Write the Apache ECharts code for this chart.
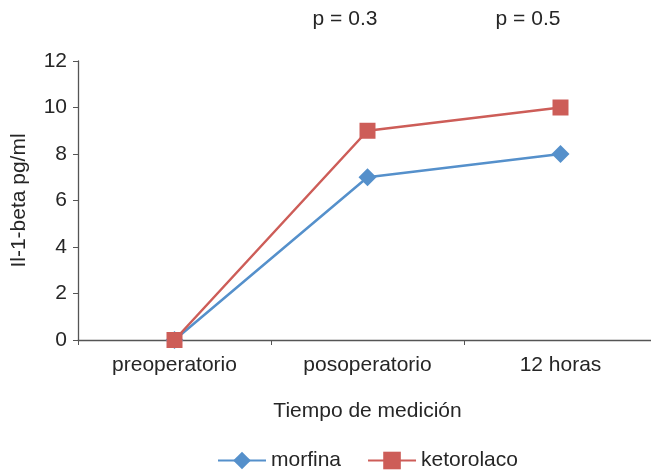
<!DOCTYPE html>
<html>
<head>
<meta charset="utf-8">
<script src="https://cdn.jsdelivr.net/npm/echarts@6/dist/echarts.min.js"></script>
<style>html,body{margin:0;padding:0;background:#fff;overflow:hidden}#c{width:662px;height:471px}</style>
</head>
<body>
<div id="c"></div>
<script>
const categories = ['preoperatorio', 'posoperatorio', '12 horas'];
const morfina = [0, 7, 8];
const ketorolaco = [0, 9, 10];
const pLabels = ['p = 0.3', 'p = 0.5'];
const yTicks = { min: 0, max: 12, interval: 2 };

const FONT = 'Liberation Sans, Arial, sans-serif';
const FS = 21;
const TXT = '#262626';
const chart = echarts.init(document.getElementById('c'), null, { renderer: 'canvas' });
chart.setOption({
  animation: false,
  backgroundColor: '#fff',
  textStyle: { fontFamily: FONT },
  grid: { left: 78, top: 61, width: 579, height: 279, containLabel: false },
  xAxis: {
    type: 'category',
    data: categories,
    boundaryGap: true,
    name: 'Tiempo de medición',
    nameLocation: 'middle',
    nameGap: 61,
    nameTextStyle: { fontSize: FS, color: TXT, fontFamily: FONT },
    axisLine: { lineStyle: { color: '#555', width: 1.3 } },
    axisTick: { show: true, length: 5, lineStyle: { color: '#555' } },
    axisLabel: { fontSize: FS, color: TXT, margin: 15, fontFamily: FONT }
  },
  yAxis: {
    type: 'value',
    min: yTicks.min, max: yTicks.max, interval: yTicks.interval,
    name: 'Il-1-beta pg/ml',
    nameLocation: 'middle',
    nameGap: 48,
    nameRotate: 90,
    nameTextStyle: { fontSize: FS, color: TXT, fontFamily: FONT },
    axisLine: { show: true, lineStyle: { color: '#555', width: 1.3 } },
    axisTick: { show: true, length: 5, lineStyle: { color: '#555' } },
    axisLabel: { fontSize: FS, color: TXT, margin: 11, fontFamily: FONT },
    splitLine: { show: false }
  },
  legend: {
    top: 445,
    left: 212,
    itemWidth: 48,
    itemHeight: 22,
    itemGap: 26,
    textStyle: { fontSize: FS, color: TXT, fontFamily: FONT },
    data: ['morfina', 'ketorolaco']
  },
  graphic: [
    { type: 'text', x: 345, y: 19, style: { text: pLabels[0], font: FS + 'px ' + FONT, fill: TXT, align: 'center', verticalAlign: 'middle' } },
    { type: 'text', x: 528, y: 19, style: { text: pLabels[1], font: FS + 'px ' + FONT, fill: TXT, align: 'center', verticalAlign: 'middle' } }
  ],
  series: [
    {
      name: 'morfina', type: 'line', data: morfina,
      symbol: 'diamond', symbolSize: 18,
      lineStyle: { color: '#5590cb', width: 2.5 },
      itemStyle: { color: '#5590cb' }
    },
    {
      name: 'ketorolaco', type: 'line', data: ketorolaco,
      symbol: 'rect', symbolSize: 16,
      lineStyle: { color: '#cd5d58', width: 2.5 },
      itemStyle: { color: '#cd5d58' }
    }
  ]
});
</script>
</body>
</html>
